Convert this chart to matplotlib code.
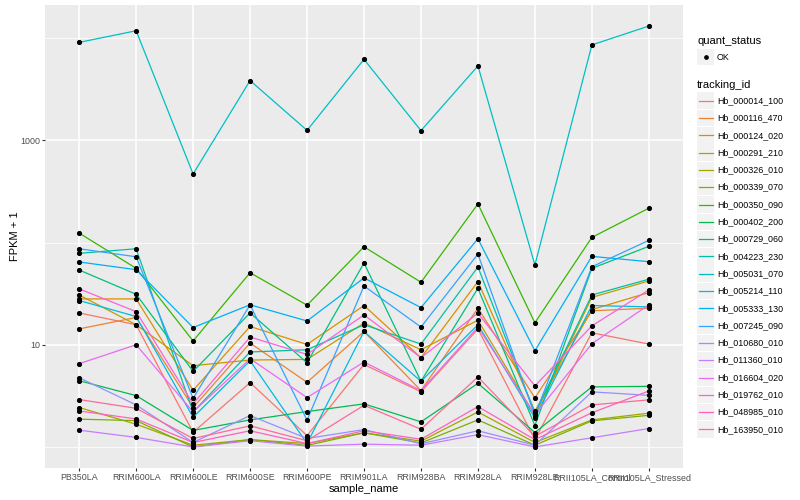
import numpy as np
import matplotlib
matplotlib.use("Agg")
from matplotlib import pyplot as plt
from matplotlib.lines import Line2D
from matplotlib.patches import Rectangle
from matplotlib.ticker import NullFormatter

plt.rcParams['font.family'] = ['Liberation Sans', 'DejaVu Sans']

samples = ["PB350LA", "RRIM600LA", "RRIM600LE", "RRIM600SE", "RRIM600PE",
           "RRIM901LA", "RRIM928BA", "RRIM928LA", "RRIM928LE",
           "RRII105LA_Control", "RRII105LA_Stressed"]

# FPKM per sample (plotted as FPKM + 1)
hb_000014_100 = [19.5, 14.7, 0.39, 3.26, 0.29, 5.42, 2.46, 13.3, 0.18, 12.1, 9.16]
hb_000116_470 = [13.3, 17.5, 1.43, 9.4, 3.29, 12.5, 2.56, 21.8, 2.02, 20.5, 21.8]
hb_000124_020 = [27.1, 27.1, 2.58, 14.1, 9.07, 23.2, 6.47, 40.5, 1.24, 21.1, 31.4]
hb_000291_210 = [29.7, 14.7, 5.24, 6.09, 6.19, 15.3, 7.94, 16.4, 1.04, 28.1, 41.1]
hb_000326_010 = [1.43, 0.67, 0.04, 0.18, 0.08, 0.376, 0.14, 1.2, 0.106, 0.84, 1.14]
hb_000339_070 = [0.87, 0.81, 0.0, 0.18, 0.035, 0.376, 0.094, 0.84, 0.04, 0.8, 1.04]
hb_000350_090 = [122.8, 55, 9.9, 49.7, 23.4, 90, 39.9, 238, 15.4, 111.4, 216]
hb_000402_200 = [3.45, 2.18, 0.45, 0.84, 1.22, 1.64, 0.76, 3.19, 0.385, 2.87, 2.92]
hb_000729_060 = [52.9, 30.2, 4.49, 19.5, 5.67, 62.1, 3.39, 34.7, 0.62, 55, 90.8]
hb_004223_230 = [77.5, 86, 1.2, 7.5, 7.94, 14.7, 9.16, 56.7, 1.14, 29.7, 42.8]
hb_005031_070 = [9100, 11830, 468, 3850, 1252, 6210, 1245, 5350, 59.3, 8590, 13150]
hb_005214_110 = [26.1, 17.9, 0.95, 5.98, 0.08, 12.5, 3.39, 14.7, 0.93, 23.2, 22.5]
hb_005333_130 = [63.6, 53.3, 13.75, 23.6, 16.1, 44.1, 22.1, 107.9, 7.74, 72.3, 64]
hb_007245_090 = [86, 71.6, 1.99, 23.6, 0.83, 36.6, 13.9, 76.2, 1.03, 57, 104.1]
hb_010680_010 = [3.76, 1.58, 0.106, 1.03, 0.21, 0.48, 0.074, 0.44, 0.04, 2.46, 2.2]
hb_011360_010 = [0.46, 0.24, 0.0, 0.15, 0.02, 0.065, 0.04, 0.32, 0.0, 0.23, 0.515]
hb_016604_020 = [5.53, 9.0, 1.2, 6.3, 2.04, 5.78, 2.56, 13.9, 1.07, 9.23, 23.6]
hb_019762_010 = [34.2, 20.1, 1.64, 10.9, 7.04, 18.6, 6.47, 19.4, 2.95, 14.3, 33.4]
hb_048985_010 = [1.25, 0.88, 0.106, 0.44, 0.08, 0.44, 0.19, 1.48, 0.18, 1.16, 2.53]
hb_163950_010 = [1.91, 1.39, 0.21, 0.61, 0.15, 1.56, 0.49, 3.84, 0.27, 1.58, 1.89]

tracking_ids = ["Hb_000014_100", "Hb_000116_470", "Hb_000124_020", "Hb_000291_210",
                "Hb_000326_010", "Hb_000339_070", "Hb_000350_090", "Hb_000402_200",
                "Hb_000729_060", "Hb_004223_230", "Hb_005031_070", "Hb_005214_110",
                "Hb_005333_130", "Hb_007245_090", "Hb_010680_010", "Hb_011360_010",
                "Hb_016604_020", "Hb_019762_010", "Hb_048985_010", "Hb_163950_010"]
series = [hb_000014_100, hb_000116_470, hb_000124_020, hb_000291_210, hb_000326_010,
          hb_000339_070, hb_000350_090, hb_000402_200, hb_000729_060, hb_004223_230,
          hb_005031_070, hb_005214_110, hb_005333_130, hb_007245_090, hb_010680_010,
          hb_011360_010, hb_016604_020, hb_019762_010, hb_048985_010, hb_163950_010]


def hue_pal(n, c=100.0, l=65.0):
    # ggplot2 default discrete palette: hcl() with evenly spaced hues
    hues = np.linspace(15, 375, n + 1)[:n]
    xn, yn, zn = 95.047, 100.0, 108.883
    un = 4 * xn / (xn + 15 * yn + 3 * zn)
    vn = 9 * yn / (xn + 15 * yn + 3 * zn)
    y = yn * ((l + 16) / 116) ** 3 / 100
    cols = []
    for h in hues:
        u = c * np.cos(np.radians(h))
        v = c * np.sin(np.radians(h))
        up = u / (13 * l) + un
        vp = v / (13 * l) + vn
        x = y * 9 * up / (4 * vp)
        z = y * (12 - 3 * up - 20 * vp) / (4 * vp)
        rgb = np.array([3.2404542 * x - 1.5371385 * y - 0.4985314 * z,
                        -0.9692660 * x + 1.8760108 * y + 0.0415560 * z,
                        0.0556434 * x - 0.2040259 * y + 1.0572252 * z])
        rgb = np.where(rgb <= 0.0031308, 12.92 * rgb,
                       1.055 * np.abs(rgb) ** (1 / 2.4) - 0.055)
        cols.append(tuple(np.clip(rgb, 0, 1)))
    return cols


colors = hue_pal(len(tracking_ids))
xpos = np.arange(len(samples))

fig = plt.figure(figsize=(8, 5), dpi=100)
ax = fig.add_axes([45 / 800, 32 / 500, 638 / 800, 463 / 500])
ax.set_facecolor("#EBEBEB")

for vals, col in zip(series, colors):
    ax.plot(xpos, np.array(vals) + 1, color=col, lw=0.9, zorder=2)
for vals in series:
    ax.plot(xpos, np.array(vals) + 1, "o", color="black", ms=2.7, zorder=3)

ax.set_yscale("log")
allv = np.concatenate([np.array(s) + 1 for s in series])
lo, hi = np.log10(allv.min()), np.log10(allv.max())
pad = 0.05 * (hi - lo)
ax.set_ylim(10 ** (lo - pad), 10 ** (hi + pad))
ax.set_xlim(-0.6, len(samples) - 0.4)

ax.set_yticks([10, 1000])
ax.set_yticklabels(["10", "1000"])
ax.set_yticks([1, 100, 10000], minor=True)
ax.yaxis.set_minor_formatter(NullFormatter())
ax.set_xticks(xpos)
ax.set_xticklabels(samples)

ax.grid(True, which="major", color="white", lw=1.1, zorder=0)
ax.grid(True, which="minor", axis="y", color="white", lw=0.55, zorder=0)
ax.set_axisbelow(True)
for sp in ax.spines.values():
    sp.set_visible(False)
ax.tick_params(which="major", length=2.2, width=0.8, color="#333333",
               labelcolor="#4D4D4D", labelsize=6.4, pad=1.5)
ax.tick_params(which="minor", length=0)

ax.set_xlabel("sample_name", fontsize=8, labelpad=1.5)
ax.set_ylabel("FPKM + 1", fontsize=8, labelpad=0)

# legend drawn to the right of the panel
kx, kw, kh = 697 / 800, 17 / 800, 16.5 / 500
def fy(py):
    return 1 - py / 500

fig.text(697 / 800, fy(41), "quant_status", fontsize=8, va="center", ha="left")
fig.patches.append(Rectangle((kx, fy(57) - kh / 2), kw, kh, transform=fig.transFigure,
                             facecolor="#F2F2F2", edgecolor="none"))
fig.lines.append(Line2D([kx + kw / 2], [fy(57)], marker="o", ms=2.4, color="black",
                        transform=fig.transFigure))
fig.text(717 / 800, fy(57), "OK", fontsize=6.4, va="center", ha="left")

fig.text(697 / 800, fy(85), "tracking_id", fontsize=8, va="center", ha="left")
for i, (tid, col) in enumerate(zip(tracking_ids, colors)):
    cy = 100.7 + i * 17.3
    fig.patches.append(Rectangle((kx, fy(cy) - kh / 2), kw, kh, transform=fig.transFigure,
                                 facecolor="#F2F2F2", edgecolor="none"))
    fig.lines.append(Line2D([698.5 / 800, 712.5 / 800], [fy(cy), fy(cy)], color=col, lw=0.9,
                            transform=fig.transFigure))
    fig.text(717 / 800, fy(cy), tid, fontsize=6.4, va="center", ha="left")

fig.savefig("out.png", dpi=100)
